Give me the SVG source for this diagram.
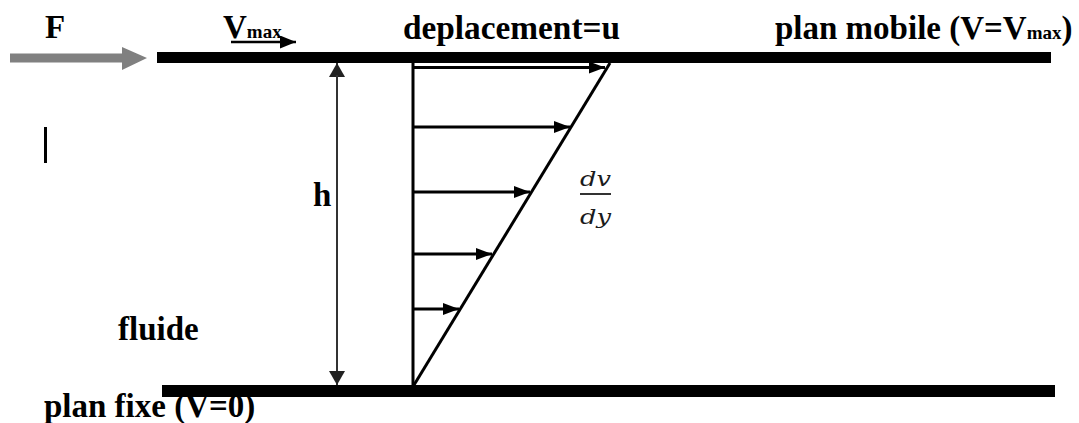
<svg xmlns="http://www.w3.org/2000/svg" width="1079" height="423" viewBox="0 0 1079 423">
  <style>
    .lbl { font-family: "Liberation Serif", "Times New Roman", serif; font-weight: bold; font-size: 33px; fill: #000; }
    .sub { font-size: 19px; }
    .math { font-family: "DejaVu Serif", "Liberation Serif", serif; font-style: italic; font-size: 20px; fill: #1b1b1b; }
    .prof { stroke: #000; stroke-width: 3; fill: none; }
    .vel { stroke: #000; stroke-width: 3; fill: none; marker-end: url(#ah); }
    .dim { stroke: #333; stroke-width: 2; fill: none; }
  </style>
  <defs>
    <marker id="ah" viewBox="0 0 16 12" refX="16" refY="6" markerWidth="16" markerHeight="12" markerUnits="userSpaceOnUse" orient="auto">
      <path d="M0,0 L16,6 L0,12 Z" fill="#000"/>
    </marker>
    <marker id="dh" viewBox="0 0 14 16" refX="14" refY="8" markerWidth="14" markerHeight="16" markerUnits="userSpaceOnUse" orient="auto">
      <path d="M0,0 L14,8 L0,16 Z" fill="#222"/>
    </marker>
    <marker id="sh" viewBox="0 0 16 13" refX="16" refY="6.5" markerWidth="16" markerHeight="13" markerUnits="userSpaceOnUse" orient="auto">
      <path d="M0,0 L16,6.5 L0,13 Z" fill="#000"/>
    </marker>
  </defs>

  <g id="plan-mobile">
    <rect x="157" y="52" width="894" height="11" fill="#000"/>
    <text class="lbl" x="775" y="39">plan mobile (V=V<tspan class="sub">max</tspan>)</text>
  </g>

  <g id="plan-fixe">
    <rect x="162" y="385" width="893" height="12" fill="#000"/>
    <text class="lbl" x="44" y="417">plan fixe (V=0)</text>
  </g>

  <g id="force">
    <path d="M10,53.5 L122,53.5 L122,47 L147,58 L122,70 L122,62.5 L10,62.5 Z" fill="#808080"/>
    <text class="lbl" x="45" y="38">F</text>
  </g>

  <g id="vmax">
    <text class="lbl" x="223" y="38">V<tspan class="sub">max</tspan></text>
    <line x1="231" y1="42" x2="296" y2="42" stroke="#000" stroke-width="2.5" marker-end="url(#sh)"/>
  </g>

  <g id="deplacement">
    <text class="lbl" x="403" y="39" textLength="217" lengthAdjust="spacingAndGlyphs">deplacement=u</text>
  </g>

  <g id="profil">
    <line class="prof" x1="413" y1="63" x2="413" y2="386"/>
    <line class="prof" x1="414" y1="385" x2="610" y2="63"/>
    <text class="math" x="580" y="186" textLength="31" lengthAdjust="spacingAndGlyphs">dv</text>
    <line x1="580" y1="194" x2="611" y2="194" stroke="#1b1b1b" stroke-width="1.8"/>
    <text class="math" x="580" y="224" textLength="31" lengthAdjust="spacingAndGlyphs">dy</text>
  </g>

  <g id="fluide">
    <text class="lbl" x="118" y="340">fluide</text>
  </g>

  <g id="cursor">
    <rect x="44" y="127" width="3" height="36" fill="#000"/>
  </g>

  <g id="connectors">
    <line class="vel" x1="414" y1="67.5" x2="605" y2="67.5"/>
    <line class="vel" x1="414" y1="127" x2="570" y2="127"/>
    <line class="vel" x1="414" y1="192" x2="530" y2="192"/>
    <line class="vel" x1="414" y1="254" x2="492" y2="254"/>
    <line class="vel" x1="414" y1="309" x2="459" y2="309"/>
    <line class="dim" x1="337" y1="75" x2="337" y2="63" marker-end="url(#dh)"/>
    <line class="dim" x1="337" y1="75" x2="337" y2="373"/>
    <line class="dim" x1="337" y1="373" x2="337" y2="385" marker-end="url(#dh)"/>
  </g>

  <g id="h-label">
    <text class="lbl" x="313" y="206">h</text>
  </g>
</svg>
